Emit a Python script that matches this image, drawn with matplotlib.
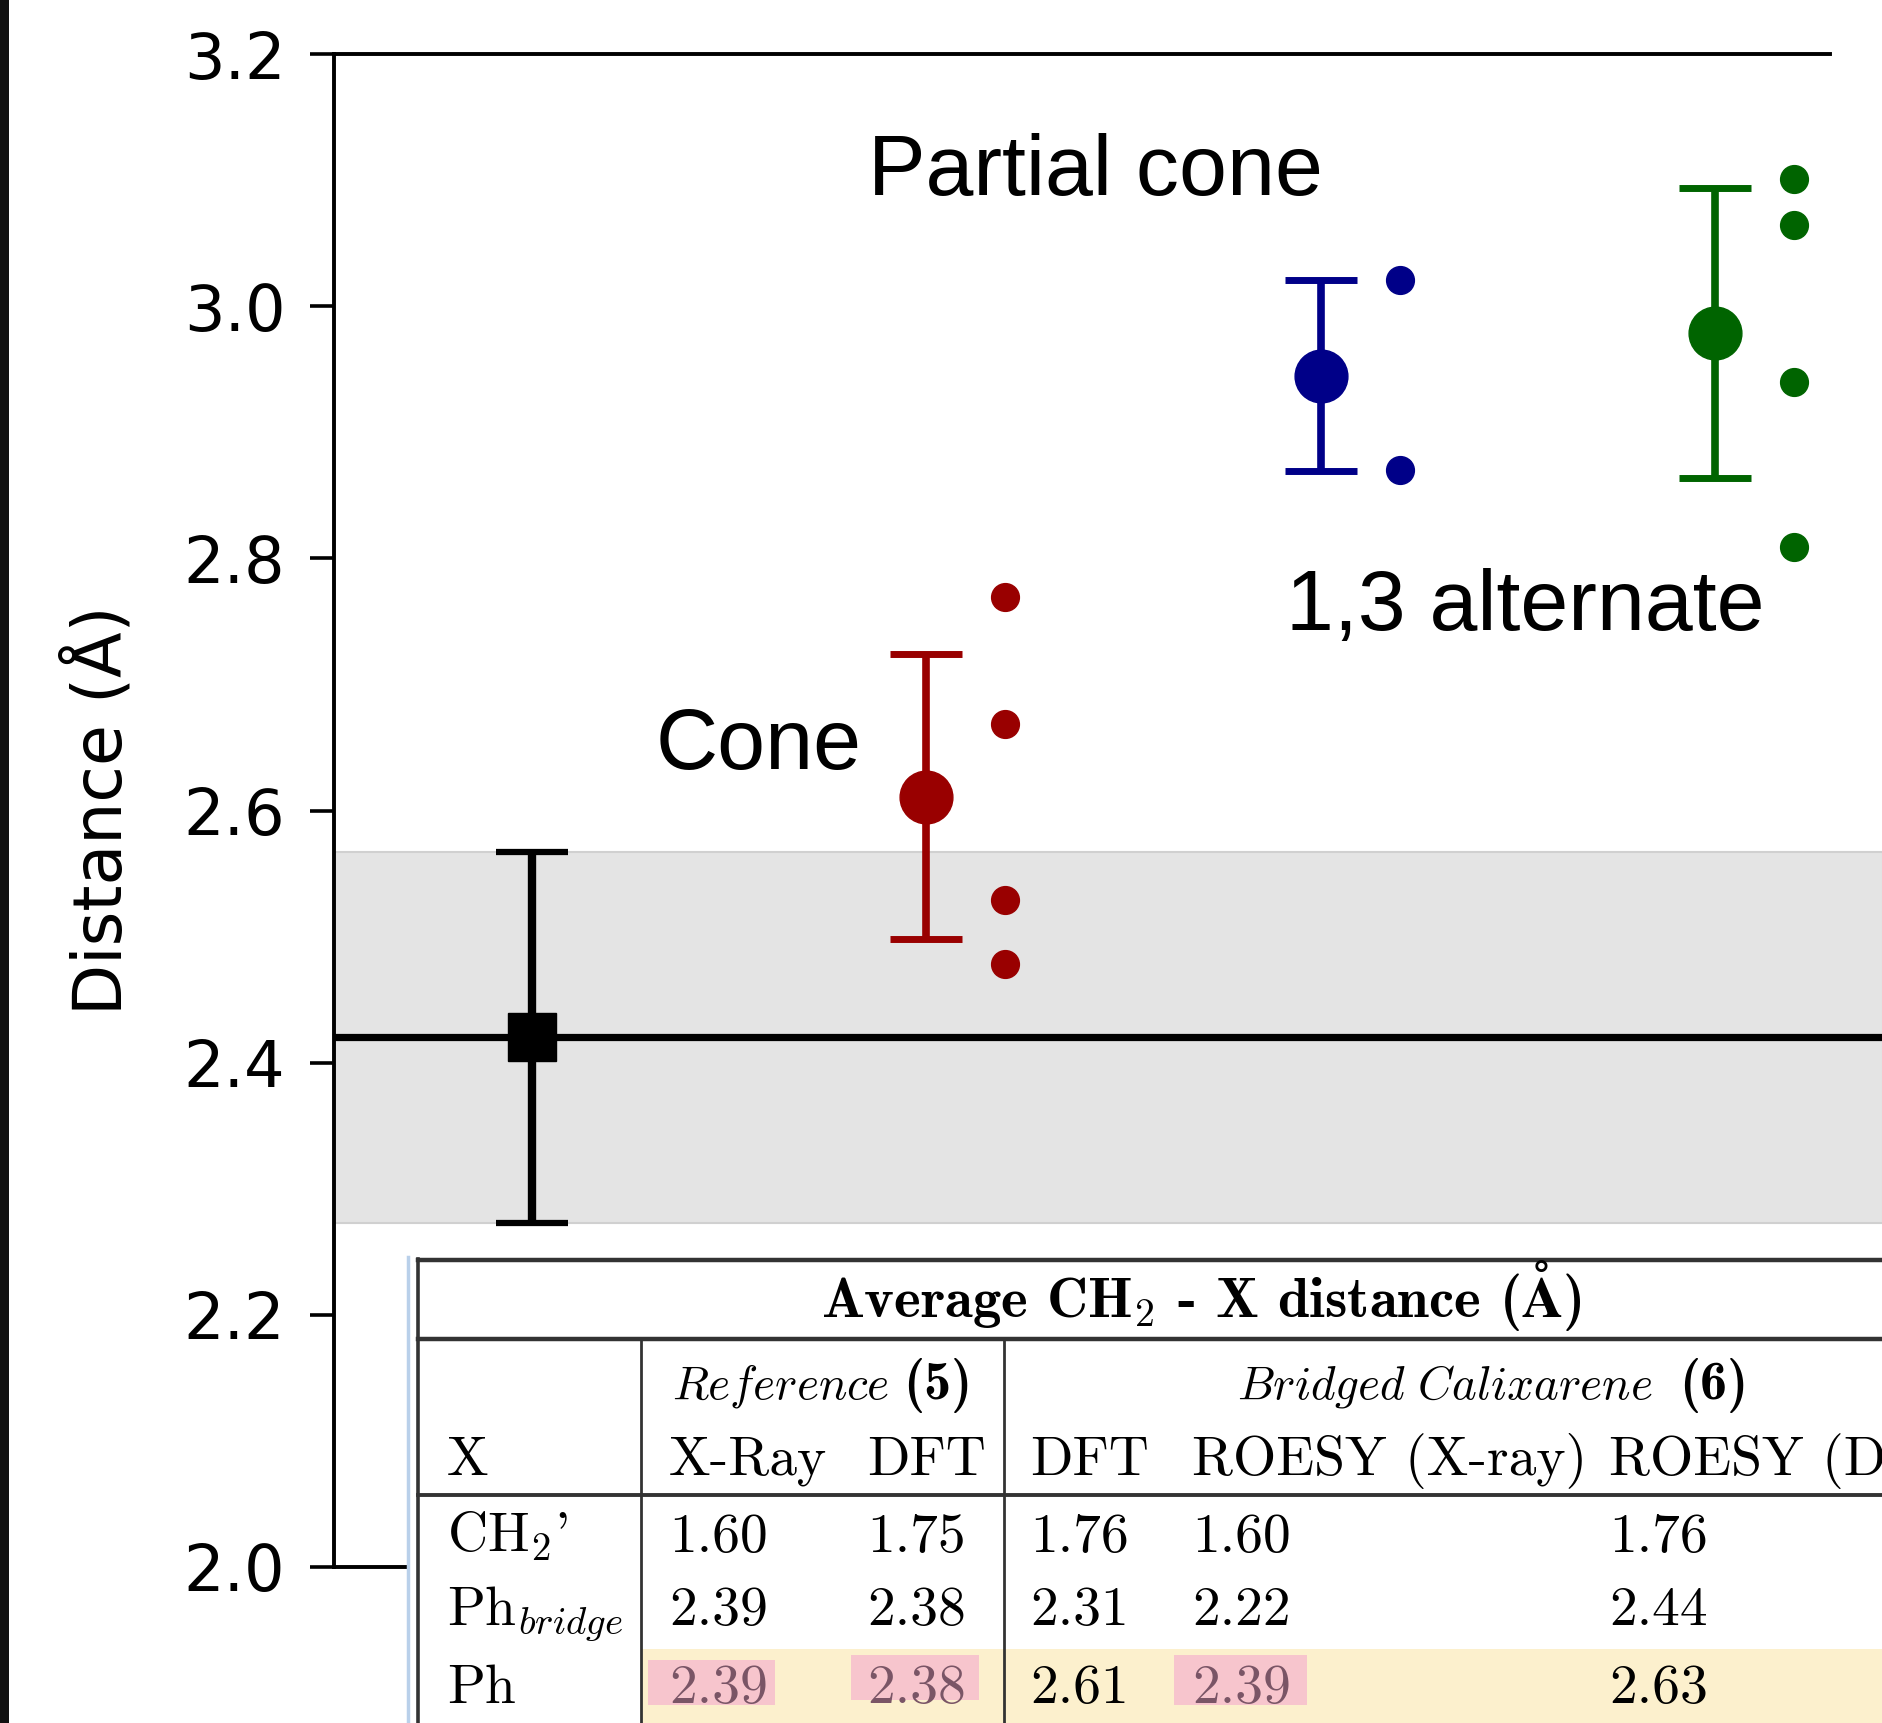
import matplotlib
matplotlib.use("Agg")
import matplotlib.pyplot as plt
from matplotlib.patches import Rectangle

# ---------------- data ----------------
ref_mean = 2.420
ref_err = 0.147
group_names = ["Cone", "Partial cone", "1,3 alternate"]
group_means = [2.611, 2.945, 2.979]
group_errs = [0.113, 0.076, 0.115]
cone_vals = [2.769, 2.669, 2.529, 2.478]
partial_vals = [3.021, 2.870]
alt_vals = [3.101, 3.064, 2.940, 2.809]
group_points = [cone_vals, partial_vals, alt_vals]
group_colors = ["#990000", "#000088", "#006400"]
yticks = [2.0, 2.2, 2.4, 2.6, 2.8, 3.0, 3.2]
ytick_labels = ["2.0", "2.2", "2.4", "2.6", "2.8", "3.0", "3.2"]

# table contents
table_title = r"Average CH$_\mathbf{2}$ - X distance ($\mathbf{Å}$)"
table_groups = [r"$\mathit{Reference}$", r"$\mathit{Bridged\ Calixarene}$"]
table_group_ids = ["(5)", "(6)"]
table_cols = ["X-Ray", "DFT", "DFT", "ROESY (X-ray)", "ROESY (DFT)"]
table_rows = ["CH$_2$'", "Ph$_{bridge}$", "Ph"]
table_vals = [["1.60", "1.75", "1.76", "1.60", "1.76"],
              ["2.39", "2.38", "2.31", "2.22", "2.44"],
              ["2.39", "2.38", "2.61", "2.39", "2.63"]]

plt.rcParams["mathtext.fontset"] = "cm"

W, H = 1883, 1723
fig = plt.figure(figsize=(W / 100, H / 100), dpi=100)

# ---------------- main axes ----------------
ax = fig.add_axes([334 / W, 156 / H, 1 - 334 / W, (1567 - 54) / H])
ax.set_xlim(-0.502, 3.425)
ax.set_ylim(2.0, 3.2)

ax.axhspan(ref_mean - ref_err, ref_mean + ref_err, facecolor="#e4e4e4",
           edgecolor="#d0d0d0", lw=1.5, zorder=0)
ax.axhline(ref_mean, color="black", lw=5.2, zorder=2)
ax.errorbar([0], [ref_mean], yerr=[ref_err], fmt="s", ms=34, color="black",
            ecolor="black", elinewidth=6, capsize=26, capthick=4.5, zorder=3)

for i, (m, e, pts, c) in enumerate(zip(group_means, group_errs, group_points, group_colors)):
    x = i + 1
    ax.errorbar([x], [m], yerr=[e], fmt="o", ms=38, color=c, ecolor=c,
                elinewidth=5.5, capsize=26, capthick=5, zorder=3)
    ax.plot([x + 0.2] * len(pts), pts, "o", ms=20, color=c, ls="none", zorder=3)

txt_font = dict(family="Liberation Sans", fontsize=62, color="black")
ax.text(0.575, 2.633, group_names[0], ha="center", va="baseline", **txt_font)
ax.text(1.428, 3.088, group_names[1], ha="center", va="baseline", **txt_font)
ax.text(2.518, 2.743, group_names[2], ha="center", va="baseline", **txt_font)

ax.spines["right"].set_visible(False)
for s in ["left", "top", "bottom"]:
    ax.spines[s].set_linewidth(2.8)
    ax.spines[s].set_color("black")
ax.spines["top"].set_bounds(-0.502, 3.29)
ax.set_xticks([])
ax.set_yticks(yticks)
ax.set_yticklabels(ytick_labels)
ax.tick_params(axis="y", direction="out", length=17, width=2.6, pad=18,
               labelsize=46, colors="black")
ax.set_ylabel("Distance (Å)", fontsize=48)
ax.yaxis.set_label_coords(-0.128, 0.5)

# ---------------- table overlay ----------------
tax = fig.add_axes([0, 0, 1, 1])
tax.set_zorder(5)
tax.set_xlim(0, W)
tax.set_ylim(H, 0)
tax.axis("off")

# black bar on the far left
tax.add_patch(Rectangle((0, 0), 9, H, color="#111111", lw=0))
# white table background
tax.add_patch(Rectangle((410, 1257), W - 410, H - 1257, facecolor="white", lw=0))
tax.plot([408, 408], [1257, H], color="#b9d0ea", lw=2.5)
# highlights
tax.add_patch(Rectangle((642, 1649), W - 642, H - 1649, facecolor="#fcf0cd", lw=0))
for (x0, x1, y0, y1) in [(648, 775, 1660, 1705), (851, 979, 1655, 1700), (1174, 1307, 1655, 1705)]:
    tax.add_patch(Rectangle((x0, y0), x1 - x0, y1 - y0, facecolor="#f7c5cd", lw=0))

lc = "#333333"
tax.plot([418, 418], [1259, H], color=lc, lw=2.6)
tax.plot([418, W], [1260, 1260], color=lc, lw=3.2)
tax.plot([418, W], [1339, 1339], color=lc, lw=3.2)
tax.plot([418, W], [1495, 1495], color=lc, lw=2.8)
tax.plot([641, 641], [1339, H], color=lc, lw=2.0)
tax.plot([1004, 1004], [1339, H], color=lc, lw=2.0)

fs = 40
rm = dict(family="cmr10", fontsize=fs, va="baseline", ha="left", color="black")
tax.text(1201, 1317, table_title, family="cmb10", fontsize=41, va="baseline", ha="center")

tax.text(672, 1399, table_groups[0], family="cmr10", fontsize=34, va="baseline", ha="left")
tax.text(903, 1399, table_group_ids[0], family="cmb10", fontsize=39, va="baseline", ha="left")
tax.text(1237, 1399, table_groups[1], family="cmr10", fontsize=34, va="baseline", ha="left")
tax.text(1679, 1399, table_group_ids[1], family="cmb10", fontsize=39, va="baseline", ha="left")

col_x = [669, 867, 1030, 1192, 1609]
tax.text(447, 1475, "X", **rm)
for x, lab in zip(col_x, table_cols):
    tax.text(x, 1475, lab, **rm)

row_y = [1552, 1625, 1703]
for r, (y, name) in enumerate(zip(row_y, table_rows)):
    tax.text(447, y, name, **rm)
    for c, (x, v) in enumerate(zip(col_x, table_vals[r])):
        col = "#7a5566" if (r == 2 and c in (0, 1, 3)) else "black"
        tax.text(x, y, v, family="cmr10", fontsize=fs, va="baseline", ha="left", color=col)

fig.savefig("out.png", dpi=100)
